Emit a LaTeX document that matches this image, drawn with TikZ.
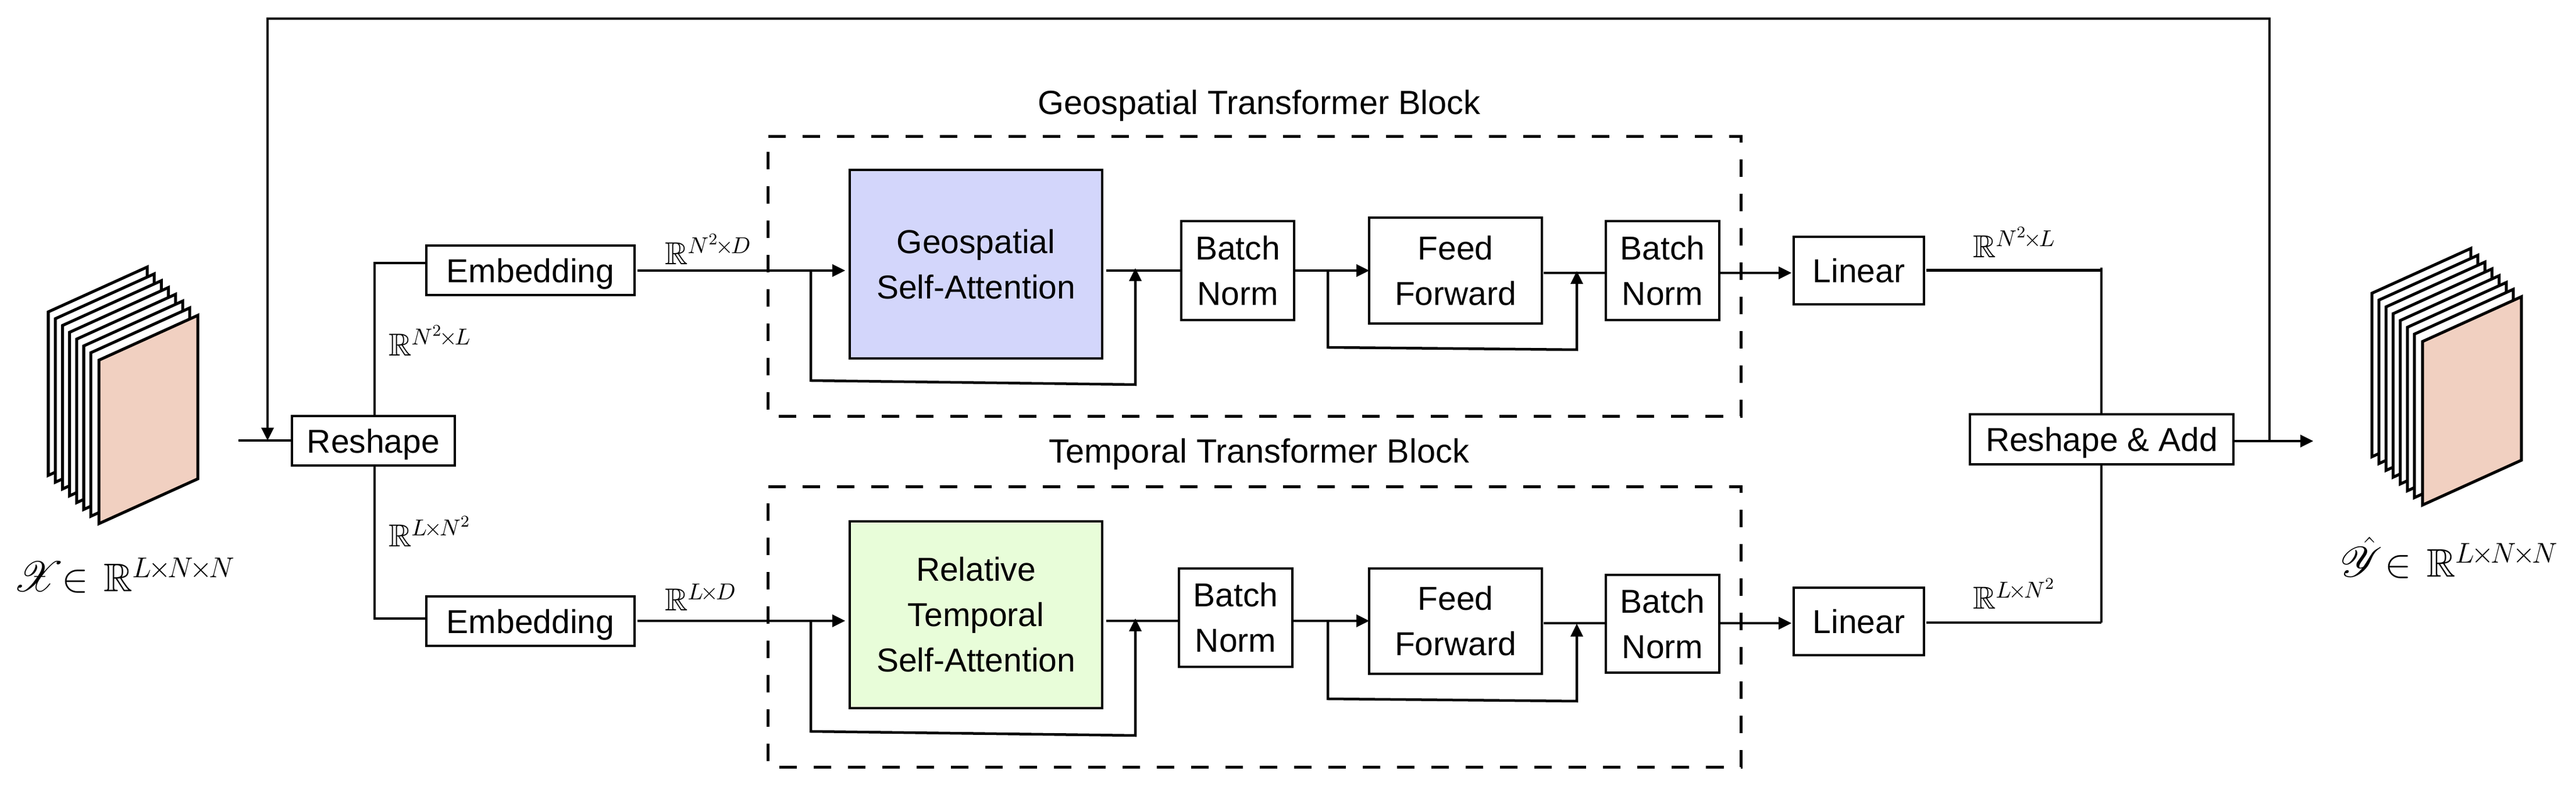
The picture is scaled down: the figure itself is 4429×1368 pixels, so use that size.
\RequirePackage{fix-cm}
\documentclass[tikz,border=0pt]{standalone}
\usepackage{amssymb}
\usepackage{mathrsfs}
\usepackage{fontspec}
\setmainfont{Liberation Sans}
\usetikzlibrary{arrows.meta,calc}
\DeclareMathSizes{15.5}{15.5}{11.2}{8}
\DeclareMathSizes{19.5}{19.5}{14}{10}
\definecolor{peach}{HTML}{F1D0C1}
\definecolor{attblue}{HTML}{D3D6FB}
\definecolor{attgreen}{HTML}{E8FDD9}
\newcommand{\tm}{\mkern-2mu\times\mkern-2mu}
\tikzset{
  blk/.style={draw=black,line width=0.045cm,fill=white,inner sep=0pt,outer sep=0pt,align=center,
    font=\fontsize{16.2}{22.2}\selectfont},
  oneline/.style={text height=0.41cm,text depth=0pt},
  wire/.style={draw=black,line width=0.045cm,line join=miter},
  arr/.style={wire,-{Triangle[length=6.2pt,width=6.2pt,line width=0pt]}},
  sheet/.style={draw=black,line width=0.05cm,fill=white,line join=miter},
  frame/.style={draw=black,line width=0.048cm,dash pattern=on 0.30cm off 0.29cm},
  region/.style={inner sep=0pt,outer sep=0pt},
  lab/.style={inner sep=0pt,outer sep=0pt,anchor=base west,font=\fontsize{15.5}{17}\selectfont},
  biglab/.style={inner sep=0pt,outer sep=0pt,anchor=base west,font=\fontsize{19.5}{23}\selectfont},
  titl/.style={inner sep=0pt,outer sep=0pt,font=\fontsize{16.4}{20}\selectfont},
  gapA/.style={shorten <=0.05cm},
  gapB/.style={shorten >=0.08cm},
}
\newcommand{\bx}[7][]{\node[blk,#1,minimum width={(#5-#3)*0.01cm},minimum height={(#6-#4)*0.01cm}] (#2) at ({(#3+#5)/2},{(#4+#6)/2}) {#7};}
\newcommand{\stackpic}[2]{%
  \foreach \k in {0,...,6}{
    \path[sheet] ({#1+12.2*\k},{#2+11.7*\k}) -- ++(170,-77) -- ++(0,281) -- ++(-170,77) -- cycle;
  }
  \path[sheet,fill=peach] ({#1+87},{#2+83}) -- ++(170,-77) -- ++(0,281) -- ++(-170,77) -- cycle;
}
\begin{document}
\begin{tikzpicture}[x=0.01cm,y=-0.01cm]
\path[fill=white] (0,0) rectangle (4429,1368);
\useasboundingbox (0,0) rectangle (4429,1368);

% data stacks
\stackpic{83}{536}
\stackpic{4078}{504}
\node[biglab] (xlab) at (22,1017) {$\mathscr{X}\mkern-6mu\in\mkern2mu\mathbb{R}^{L\tm N\tm N}$};
\node[biglab] (ylab) at (4023,992) {$\hat{\mathscr{Y}}\mkern-4mu\in\mkern2mu\mathbb{R}^{L\tm N\tm N}$};

% dashed blocks
\node[region,minimum width=16.72cm,minimum height=4.80cm] (blockA) at (2157,475) {};
\node[region,minimum width=16.72cm,minimum height=4.81cm] (blockB) at (2157,1077.5) {};
\draw[frame] (blockA.north west) -- (blockA.north east) -- (blockA.south east) -- (blockA.south west) -- cycle;
\draw[frame] (blockB.north west) -- (blockB.north east) -- (blockB.south east) -- (blockB.south west) -- cycle;
\node[titl] (titleA) at (2165,182) {Geospatial Transformer Block};
\node[titl] (titleB) at (2165,781) {Temporal Transformer Block};

% boxes
\bx[oneline]{reshape}{502}{715}{782}{800}{Reshape}
\bx[oneline]{embA}{733}{422}{1091}{507}{Embedding}
\bx[oneline]{embB}{733}{1025}{1091}{1110}{Embedding}
\bx[fill=attblue]{attA}{1461}{292}{1895}{616}{Geospatial\\Self-Attention}
\bx[fill=attgreen]{attB}{1461}{896}{1895}{1217}{Relative\\Temporal\\Self-Attention}
\bx{normAa}{2031}{380}{2225}{550}{Batch\\Norm}
\bx{normBa}{2027}{977}{2222}{1146}{Batch\\Norm}
\bx{ffA}{2354}{374}{2651}{556}{Feed\\Forward}
\bx{ffB}{2354}{977}{2651}{1158}{Feed\\Forward}
\bx{normAb}{2761}{380}{2956}{550}{Batch\\Norm}
\bx{normBb}{2761}{988}{2956}{1156}{Batch\\Norm}
\bx[oneline]{linA}{3084}{407}{3308}{523}{Linear}
\bx[oneline]{linB}{3084}{1010}{3308}{1126}{Linear}
\bx[oneline]{add}{3387}{712}{3840}{798}{Reshape \& Add}

% helper coordinates
\coordinate (inL) at (410,757);
\coordinate (fbTL) at (460,32);
\coordinate (fbIn) at (460,757);
\coordinate (fbTR) at (3902,32);
\coordinate (fbOut) at (3902,758);
\coordinate (outEnd) at (3977,758);
\coordinate (upA) at (644,452);
\coordinate (upB) at (644,1063);
\coordinate (rA) at (3613,460);
\coordinate (rB) at (3613,1070);
\coordinate (ya) at (0,465);
\coordinate (yb) at (0,469);
\coordinate (yr) at (0,464.5);
\coordinate (yc) at (0,1067);
\coordinate (yd) at (0,1071);

% input side
\draw[wire] (inL) -- (inL -| reshape.west);
\draw[arr] (fbOut) -- (fbTR) -- (fbTL) -- (fbIn);
\draw[wire] (reshape.north -| upA) -- (upA) -- (upA -| embA.west);
\draw[wire] (reshape.south -| upB) -- (upB) -- (upB -| embB.west);

% upper path
\coordinate (sA1) at (1394,465);
\coordinate (sA2) at (1394,654);
\coordinate (sA3) at (1952,661);
\coordinate (sA4) at (1952,461);
\coordinate (sA5) at (2283,465);
\coordinate (sA6) at (2283,597);
\coordinate (sA7) at (2711,601);
\coordinate (sA8) at (2711,466);
\draw[arr,gapA,gapB] (embA.east |- ya) -- (attA.west |- ya);
\draw[wire,shorten <=0.07cm] (attA.east |- ya) -- (normAa.west |- ya);
\draw[arr] (sA1) -- (sA2) -- (sA3) -- (sA4);
\draw[arr] (normAa.east |- ya) -- (ffA.west |- ya);
\draw[arr] (sA5) -- (sA6) -- (sA7) -- (sA8);
\draw[wire,shorten <=0.03cm] (ffA.east |- yb) -- (normAb.west |- yb);
\draw[arr,shorten >=0.04cm] (normAb.east |- yb) -- (linA.west |- yb);
\draw[wire,shorten <=0.04cm] (linA.east |- yr) -- (rA |- yr);

% lower path
\coordinate (sB1) at (1394,1067);
\coordinate (sB2) at (1394,1257);
\coordinate (sB3) at (1952,1264);
\coordinate (sB4) at (1952,1063);
\coordinate (sB5) at (2283,1067);
\coordinate (sB6) at (2283,1201);
\coordinate (sB7) at (2711,1205);
\coordinate (sB8) at (2711,1072);
\draw[arr,gapA,gapB] (embB.east |- yc) -- (attB.west |- yc);
\draw[wire,shorten <=0.07cm] (attB.east |- yc) -- (normBa.west |- yc);
\draw[arr] (sB1) -- (sB2) -- (sB3) -- (sB4);
\draw[arr] (normBa.east |- yc) -- (ffB.west |- yc);
\draw[arr] (sB5) -- (sB6) -- (sB7) -- (sB8);
\draw[wire,shorten <=0.03cm] (ffB.east |- yd) -- (normBb.west |- yd);
\draw[arr,shorten >=0.04cm] (normBb.east |- yd) -- (linB.west |- yd);
\draw[wire,shorten <=0.04cm] (linB.east |- rB) -- (rB);

% output side
\draw[wire] (rA) -- (add.north -| rA);
\draw[wire] (add.south -| rB) -- (rB);
\draw[arr] (add.east |- outEnd) -- (outEnd);

% dimension labels
\node[lab] (dimL1) at (668,612) {$\mathbb{R}^{N^2\tm L}$};
\node[lab] (dimL2) at (668,940) {$\mathbb{R}^{L\tm N^2}$};
\node[lab] (dimM1) at (1143,455) {$\mathbb{R}^{N^2\tm D}$};
\node[lab] (dimM2) at (1143,1050) {$\mathbb{R}^{L\tm D}$};
\node[lab] (dimR1) at (3392,443) {$\mathbb{R}^{N^2\tm L}$};
\node[lab] (dimR2) at (3392,1047) {$\mathbb{R}^{L\tm N^2}$};
\end{tikzpicture}
\end{document}
